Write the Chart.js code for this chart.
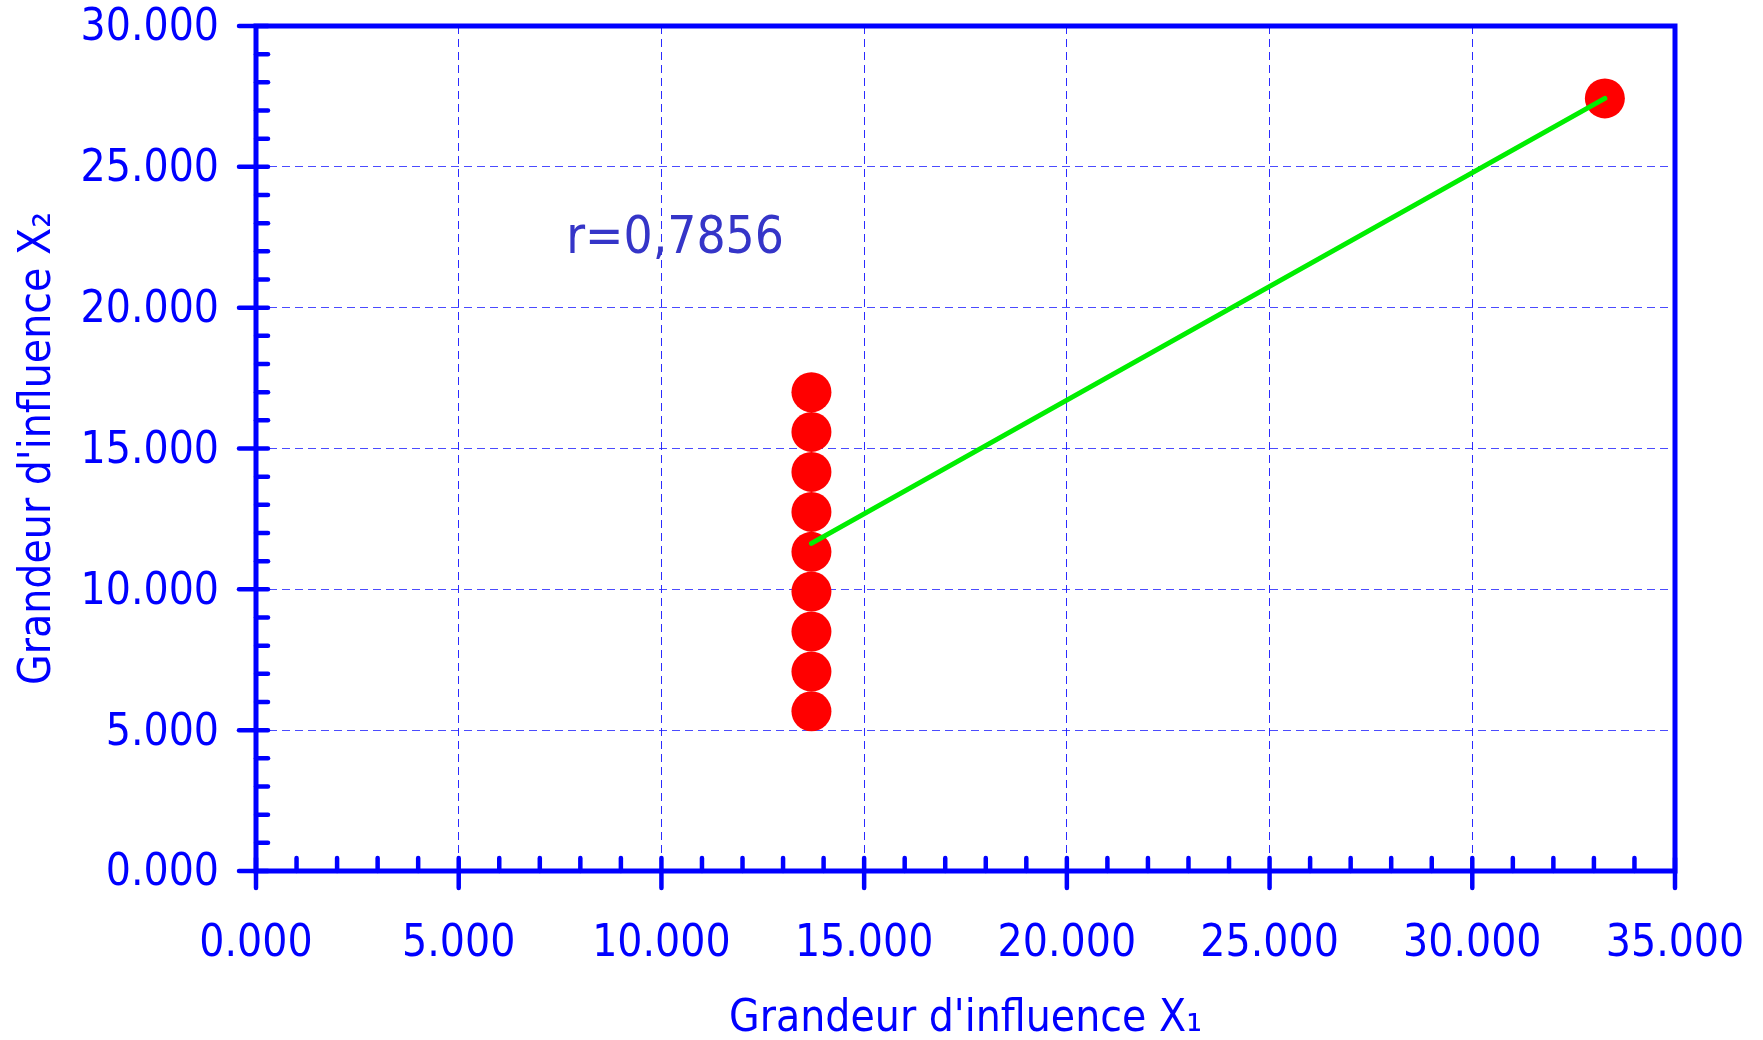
<!DOCTYPE html>
<html>
<head>
<meta charset="utf-8">
<script src="https://cdn.jsdelivr.net/npm/chart.js@4.4.1/dist/chart.umd.min.js"></script>
<style>
  html, body { margin: 0; padding: 0; background: #ffffff; }
  canvas { display: block; }
</style>
</head>
<body>
<canvas id="chart" width="1763" height="1040"></canvas>
<script>
// Measurements: influence quantity X1 (horizontal) vs X2 (vertical)
const clusterX = [13700, 13700, 13700, 13700, 13700, 13700, 13700, 13700, 13700];
const clusterY = [17000, 15590, 14170, 12750, 11330, 9920, 8500, 7080, 5670];
const outlierX = [33270];
const outlierY = [27430];

// Fitted regression line (end points)
const fitX = [13700, 33270];
const fitY = [11630, 27430];

// Axis tick labels
const xTickLabels = ['0.000', '5.000', '10.000', '15.000', '20.000', '25.000', '30.000', '35.000'];
const yTickLabels = ['0.000', '5.000', '10.000', '15.000', '20.000', '25.000', '30.000'];

const xTitle = "Grandeur d'influence X\u2081";
const yTitle = "Grandeur d'influence X\u2082";
const corrLabel = 'r=0,7856';
const corrAnchor = [7650, 21930];

const FONT = '"DejaVu Sans Condensed", "DejaVu Sans", sans-serif';
const BLUE = '#0000ff';

const points = clusterX.map((x, i) => ({ x, y: clusterY[i] }))
  .concat(outlierX.map((x, i) => ({ x, y: outlierY[i] })));
const fitLine = fitX.map((x, i) => ({ x, y: fitY[i] }));

// Frame, major/minor tick marks and the correlation label
const framePlugin = {
  id: 'frame',
  beforeDatasetsDraw(chart) {
    const ctx = chart.ctx;
    const xs = chart.scales.x, ys = chart.scales.y;
    ctx.save();
    ctx.font = '51px ' + FONT;
    ctx.fillStyle = '#3535c8';
    ctx.textBaseline = 'alphabetic';
    ctx.textAlign = 'left';
    ctx.fillText(corrLabel, xs.getPixelForValue(corrAnchor[0]), ys.getPixelForValue(corrAnchor[1]));
    ctx.restore();
  },
  afterDraw(chart) {
    const ctx = chart.ctx;
    const a = chart.chartArea;
    const xs = chart.scales.x, ys = chart.scales.y;
    ctx.save();
    ctx.strokeStyle = BLUE;
    ctx.lineCap = 'round';
    ctx.lineWidth = 4.5;
    // ticks on the y axis
    for (let v = ys.min; v <= ys.max; v += 1000) {
      const py = ys.getPixelForValue(v);
      const major = v % 5000 === 0;
      ctx.beginPath();
      ctx.moveTo(a.left - (major ? 17 : 0), py);
      ctx.lineTo(a.left + 12, py);
      ctx.stroke();
    }
    // ticks on the x axis
    for (let v = xs.min; v <= xs.max; v += 1000) {
      const px = xs.getPixelForValue(v);
      const major = v % 5000 === 0;
      ctx.beginPath();
      ctx.moveTo(px, a.bottom - 13);
      ctx.lineTo(px, a.bottom + (major ? 17 : 0));
      ctx.stroke();
    }
    // box
    ctx.lineWidth = 5;
    ctx.lineCap = 'square';
    ctx.beginPath();
    ctx.moveTo(a.left, a.top);
    ctx.lineTo(a.right, a.top);
    ctx.lineTo(a.right, a.bottom);
    ctx.lineTo(a.left, a.bottom);
    ctx.closePath();
    ctx.stroke();
    ctx.restore();
  }
};

const edgeHidden = (color) => (c) => {
  const s = c.scale;
  if (!c.tick || c.tick.value === s.min || c.tick.value === s.max) return 'rgba(0,0,0,0)';
  return color;
};

new Chart(document.getElementById('chart'), {
  type: 'scatter',
  data: {
    datasets: [
      {
        type: 'line',
        data: fitLine,
        borderColor: '#00ee00',
        borderWidth: 5,
        borderCapStyle: 'round',
        pointRadius: 0,
        fill: false,
        tension: 0
      },
      {
        data: points,
        backgroundColor: '#ff0000',
        borderWidth: 0,
        pointRadius: 20,
        pointHoverRadius: 20
      }
    ]
  },
  options: {
    responsive: false,
    animation: false,
    devicePixelRatio: 1,
    layout: { padding: { left: 0, top: 26, right: 88, bottom: 0 } },
    plugins: { legend: { display: false }, tooltip: { enabled: false } },
    scales: {
      x: {
        type: 'linear',
        min: 0,
        max: 35000,
        afterFit: (s) => { s.height = 169; s.paddingLeft = 0; s.paddingRight = 0; },
        border: { display: false, dash: [8, 5] },
        grid: { color: edgeHidden('rgba(20,20,255,0.9)'), lineWidth: 1, drawTicks: false },
        ticks: {
          stepSize: 5000,
          padding: 47,
          color: BLUE,
          font: { family: FONT, size: 44 },
          maxRotation: 0,
          autoSkip: false,
          callback: (v, i) => xTickLabels[i]
        },
        title: {
          display: true,
          text: xTitle,
          color: BLUE,
          font: { family: FONT, size: 44, lineHeight: 0.95 },
          padding: { top: 0, bottom: 0 }
        }
      },
      y: {
        type: 'linear',
        min: 0,
        max: 30000,
        afterFit: (s) => { s.width = 256; s.paddingTop = 0; s.paddingBottom = 0; },
        border: { display: false, dash: [8, 5] },
        grid: { color: edgeHidden('rgba(30,30,255,0.8)'), lineWidth: 1, drawTicks: false },
        ticks: {
          stepSize: 5000,
          padding: 37,
          labelOffset: 3,
          color: BLUE,
          font: { family: FONT, size: 44 },
          autoSkip: false,
          callback: (v, i) => yTickLabels[i]
        },
        title: {
          display: true,
          text: yTitle,
          color: BLUE,
          font: { family: FONT, size: 44 },
          padding: { top: 12, bottom: 0 }
        }
      }
    }
  },
  plugins: [framePlugin]
});
</script>
</body>
</html>
